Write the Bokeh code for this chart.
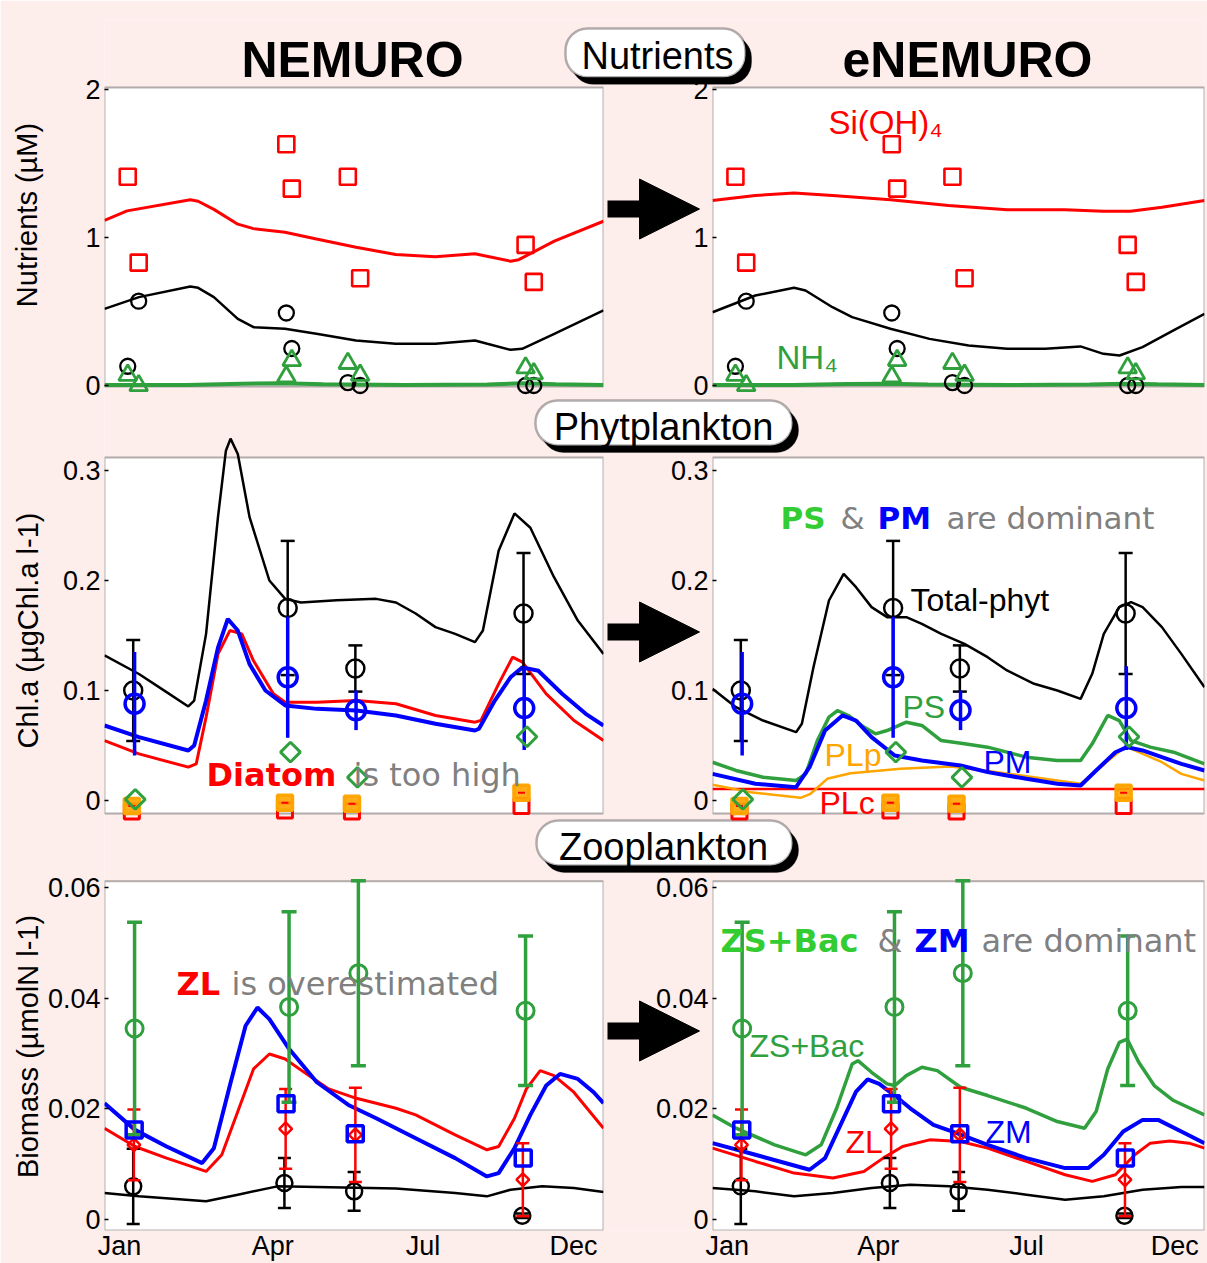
import math
from bokeh.plotting import figure
from bokeh.models import (Range1d, FixedTicker, BoxAnnotation, Label, Arrow,
                          NormalHead, GridBox)
from bokeh.embed import file_html
from bokeh.resources import INLINE

# ======================= DATA (x = day of year) =======================
month_tick_days = [11, 123, 233, 343]
month_tick_labels = ["Jan", "Apr", "Jul", "Dec"]
nut_ticks = [0, 1, 2]
nut_tick_labels = ["0", "1", "2"]
chl_ticks = [0, 0.1, 0.2, 0.3]
chl_tick_labels = ["0", "0.1", "0.2", "0.3"]
zoo_ticks = [0, 0.02, 0.04, 0.06]
zoo_tick_labels = ["0", "0.02", "0.04", "0.06"]

# ---- Nutrients: observations ----
nut_obs_day = [17, 25, 133, 137, 178, 187, 308, 314]
nut_obs_si = [1.41, 0.83, 1.63, 1.33, 1.41, 0.725, 0.95, 0.70]
nut_obs_no3 = [0.13, 0.57, 0.49, 0.25, 0.02, 0.0, 0.0, 0.0]
nut_obs_nh4 = [0.07, 0.0, 0.06, 0.17, 0.15, 0.07, 0.12, 0.08]
# ---- Nutrients: NEMURO ----
nem_si_day = [0, 16.5, 62.8, 68.5, 80, 97.5, 109, 132, 155, 184, 213, 242, 271, 277, 297, 303, 329, 365]
nem_si = [1.115, 1.18, 1.255, 1.245, 1.19, 1.09, 1.06, 1.036, 0.99, 0.934, 0.885, 0.87, 0.89, 0.878, 0.84, 0.85, 0.975, 1.11]
nem_no3_day = [0, 25.2, 62.8, 68.5, 80, 97.5, 109, 132, 155, 184, 213, 242, 271, 280, 297, 305.5, 329, 365]
nem_no3 = [0.518, 0.597, 0.669, 0.66, 0.597, 0.45, 0.394, 0.383, 0.349, 0.304, 0.282, 0.282, 0.304, 0.282, 0.241, 0.248, 0.349, 0.507]
nem_nh4_day = [0, 60, 100, 130, 160, 220, 280, 305, 330, 365]
nem_nh4 = [0.004, 0.003, 0.012, 0.015, 0.008, 0.004, 0.006, 0.015, 0.008, 0.004]
# ---- Nutrients: eNEMURO ----
enem_si_day = [0, 31.8, 60.5, 89, 132, 175, 218.5, 261.6, 290, 310, 333.5, 365]
enem_si = [1.25, 1.284, 1.30, 1.284, 1.255, 1.216, 1.187, 1.187, 1.178, 1.178, 1.205, 1.25]
enem_no3_day = [0, 31.8, 60.5, 69, 89, 103.6, 132, 161, 190, 218.5, 247, 273, 290, 302, 319, 342, 365]
enem_no3 = [0.495, 0.608, 0.66, 0.642, 0.529, 0.462, 0.383, 0.315, 0.27, 0.248, 0.248, 0.264, 0.214, 0.203, 0.259, 0.372, 0.484]
enem_nh4_day = [0, 60, 100, 130, 160, 220, 280, 305, 330, 365]
enem_nh4 = [0.004, 0.003, 0.010, 0.012, 0.007, 0.004, 0.006, 0.012, 0.008, 0.004]

# ---- Phytoplankton: observations ----
phy_obs_tot_day = [21, 134, 183.5, 306.5]
phy_obs_tot = [0.100, 0.175, 0.120, 0.170]
phy_obs_tot_err = [0.046, 0.061, 0.021, 0.055]
phy_obs_pm_day = [22, 134, 184, 307]
phy_obs_pm = [0.088, 0.112, 0.082, 0.084]
phy_obs_pm_err = [0.047, 0.055, 0.018, 0.038]
phy_obs_ps_day = [22.5, 136, 185, 309]
phy_obs_ps = [0.001, 0.044, 0.021, 0.058]
phy_obs_pl_day = [20, 132, 181, 305]
phy_obs_plp = [-0.005, -0.002, -0.003, 0.007]
phy_obs_plc = [-0.010, -0.009, -0.010, -0.005]
# ---- Phytoplankton: NEMURO ----
nem_tot_day = [0, 25.2, 45.4, 61.3, 65.6, 74.3, 83.0, 88.8, 92.2, 97.5, 106.1, 120.6, 132.2, 143.7, 169.8, 198.7, 213.2, 227.6, 242.1, 256.5, 271.0, 276.8, 288.3, 299.9, 311.5, 328.8, 346.2, 365]
nem_tot = [0.132, 0.115, 0.0985, 0.0855, 0.0909, 0.1515, 0.2576, 0.318, 0.329, 0.315, 0.2576, 0.2, 0.1833, 0.180, 0.182, 0.1833, 0.180, 0.170, 0.1576, 0.1515, 0.144, 0.1545, 0.227, 0.261, 0.248, 0.203, 0.1636, 0.1333]
nem_dia_day = [0, 25.2, 61.3, 67.1, 74.3, 83.0, 91.7, 100.4, 109.0, 123.5, 132.2, 155.3, 184.2, 213.2, 242.1, 271.0, 275.3, 288.3, 298.5, 305.7, 323.1, 343.4, 365]
nem_dia = [0.0545, 0.0424, 0.0303, 0.0333, 0.0758, 0.133, 0.1545, 0.1515, 0.127, 0.097, 0.0894, 0.0894, 0.0909, 0.0879, 0.0773, 0.0712, 0.0727, 0.106, 0.1303, 0.1258, 0.097, 0.0727, 0.0545]
nem_sp_day = [0, 25.2, 61.3, 65.6, 74.3, 83.0, 90.2, 97.5, 106.1, 117.7, 132.2, 155.3, 184.2, 213.2, 242.1, 271.0, 273.9, 285.5, 297.0, 305.7, 317.3, 334.7, 352.0, 365]
nem_sp = [0.0682, 0.0576, 0.0455, 0.05, 0.0909, 0.139, 0.165, 0.1545, 0.124, 0.1, 0.0864, 0.0833, 0.0818, 0.0773, 0.0697, 0.0636, 0.0652, 0.0909, 0.112, 0.121, 0.118, 0.097, 0.0788, 0.0682]
# ---- Phytoplankton: eNEMURO ----
enem_tot_day = [0, 17.4, 37.5, 62, 66.3, 74.9, 86.4, 97.3, 106.5, 118, 129.5, 143.8, 155.3, 169.7, 186.9, 204.1, 218.5, 238.6, 255.8, 273.1, 281.7, 290.3, 301.8, 310.5, 319.1, 333.4, 347.8, 365]
enem_tot = [0.1015, 0.0848, 0.0727, 0.0621, 0.0697, 0.1212, 0.1818, 0.2061, 0.1939, 0.1758, 0.1667, 0.1667, 0.1606, 0.1515, 0.1424, 0.1303, 0.1182, 0.1061, 0.1, 0.0924, 0.1152, 0.1515, 0.1758, 0.1803, 0.1758, 0.1576, 0.1333, 0.1030]
enem_ps_day = [0, 17.4, 37.5, 62, 69.2, 77.8, 86.4, 92.7, 100.8, 112.3, 120.9, 129.5, 143.8, 155.3, 169.7, 186.9, 204.1, 232.8, 255.8, 273.1, 281.7, 293.2, 301.8, 310.5, 324.8, 342.1, 365]
enem_ps = [0.0348, 0.0273, 0.0212, 0.0182, 0.0242, 0.0545, 0.0758, 0.0818, 0.0773, 0.0667, 0.0606, 0.0636, 0.0712, 0.0682, 0.0545, 0.0515, 0.0485, 0.0394, 0.0364, 0.0364, 0.0515, 0.0773, 0.0727, 0.0545, 0.0485, 0.0439, 0.0333]
enem_pm_day = [0, 31.8, 62, 72, 83.5, 96.4, 106.5, 118, 135.2, 155.3, 184, 204.1, 232.8, 255.8, 273.1, 284.6, 298.9, 307.5, 319.1, 333.4, 347.8, 365]
enem_pm = [0.0242, 0.0152, 0.0121, 0.0303, 0.0636, 0.0773, 0.0727, 0.0576, 0.0409, 0.0364, 0.0318, 0.0258, 0.0197, 0.0152, 0.0136, 0.0273, 0.0439, 0.0485, 0.0455, 0.0394, 0.0333, 0.0273]
enem_plp_day = [0, 28.2, 65.3, 72.7, 85.1, 102.4, 139.5, 176.6, 201.3, 238.4, 273.1, 287.9, 302.7, 307.6, 333.4, 347.8, 365]
enem_plp = [0.0143, 0.0076, 0.0024, 0.0061, 0.0197, 0.0248, 0.0288, 0.0309, 0.0273, 0.0212, 0.0152, 0.0303, 0.0455, 0.0485, 0.0348, 0.0242, 0.0182]
enem_plc_day = [0, 365]
enem_plc = [0.0105, 0.0105]

# ---- Zooplankton: observations ----
zoo_obs_zsb_day = [22, 135, 185.7, 308]
zoo_obs_zsb = [0.0345, 0.0384, 0.0445, 0.0377]
zoo_obs_zsb_err = [0.0192, 0.0172, 0.0167, 0.0135]
zoo_obs_zm_day = [21.7, 132.8, 183.4, 306.3]
zoo_obs_zm = [0.0162, 0.0209, 0.0155, 0.0111]
zoo_obs_zl_day = [21.5, 132.5, 183.5, 306]
zoo_obs_zl = [0.0135, 0.0164, 0.0153, 0.0072]
zoo_obs_zl_err = [0.0064, 0.0072, 0.0085, 0.0066]
zoo_obs_zs_day = [21, 131.6, 182.6, 305.6]
zoo_obs_zs = [0.0060, 0.0066, 0.0051, 0.0007]
zoo_obs_zs_err = [0.0068, 0.0045, 0.0035, 0.0004]
# ---- Zooplankton: NEMURO ----
nem_zm_day = [0, 22.3, 45.4, 71.4, 80, 91.7, 103.2, 111.9, 120.6, 135.1, 155.3, 178.4, 198.7, 227.6, 256.5, 279.7, 288.3, 299.9, 311.5, 323.1, 333.2, 346.2, 357.8, 365]
nem_zm = [0.021, 0.0162, 0.0132, 0.0102, 0.0129, 0.0242, 0.035, 0.0383, 0.0362, 0.0308, 0.0248, 0.0207, 0.0183, 0.0147, 0.0111, 0.0078, 0.0084, 0.0129, 0.0189, 0.0242, 0.0263, 0.0254, 0.023, 0.021]
nem_zl_day = [0, 22.3, 45.4, 74.3, 85.8, 97.5, 109, 120.6, 132.2, 149.5, 164, 184.2, 213.2, 227.6, 256.5, 279.7, 288.3, 299.9, 308.6, 318.7, 328.8, 343.3, 365]
nem_zl = [0.0165, 0.0132, 0.0111, 0.0087, 0.0117, 0.0195, 0.0272, 0.0299, 0.029, 0.026, 0.0236, 0.0219, 0.0201, 0.0189, 0.0153, 0.0126, 0.0132, 0.0183, 0.0236, 0.0269, 0.026, 0.023, 0.0165]
nem_zs_day = [0, 25.2, 74.3, 97.5, 126.4, 155.3, 213.2, 256.5, 279.7, 297, 320.2, 343.3, 365]
nem_zs = [0.0048, 0.0042, 0.0033, 0.0045, 0.0060, 0.0059, 0.0056, 0.0048, 0.0042, 0.0054, 0.0060, 0.0057, 0.0050]
# ---- Zooplankton: eNEMURO ----
enem_zsb_day = [0, 17.4, 46.1, 69.2, 80.6, 92.1, 103.6, 107.9, 118, 129.5, 135.2, 143.8, 155.3, 166.8, 184, 204.1, 232.9, 255.8, 276, 284.6, 293.2, 301.8, 307.6, 316.2, 327.7, 342, 365]
enem_zsb = [0.0189, 0.0165, 0.0135, 0.0117, 0.0135, 0.0201, 0.0281, 0.0287, 0.0266, 0.0245, 0.0242, 0.026, 0.0275, 0.0269, 0.0239, 0.0224, 0.0201, 0.0177, 0.0165, 0.0195, 0.0272, 0.032, 0.0326, 0.0284, 0.0242, 0.0215, 0.0189]
enem_zm_day = [0, 31.8, 72, 83.5, 95, 106.5, 115.1, 123.7, 135.2, 146.7, 163.9, 181.2, 204.1, 232.9, 261.6, 278.8, 290.3, 304.7, 319.1, 330.6, 347.8, 365]
enem_zm = [0.0138, 0.0117, 0.009, 0.0111, 0.0171, 0.0231, 0.0253, 0.0245, 0.0224, 0.0201, 0.0171, 0.0156, 0.0135, 0.0111, 0.0093, 0.0093, 0.0117, 0.0159, 0.018, 0.018, 0.0159, 0.0138]
enem_zl_day = [0, 31.8, 60.5, 89.3, 112.3, 126.6, 141, 161.1, 184, 204.1, 232.9, 261.6, 281.7, 298.9, 313.3, 324.8, 339.2, 353.6, 365]
enem_zl = [0.0129, 0.0105, 0.0084, 0.0075, 0.0087, 0.0111, 0.0132, 0.0144, 0.0141, 0.0129, 0.0105, 0.0081, 0.0069, 0.0081, 0.0117, 0.0138, 0.0142, 0.0138, 0.0129]
enem_zs_day = [0, 31.8, 60.5, 89.3, 118, 146.7, 175.4, 204.1, 232.9, 261.6, 290.3, 319.1, 347.8, 365]
enem_zs = [0.0057, 0.0051, 0.0042, 0.0048, 0.0057, 0.0063, 0.0060, 0.0054, 0.0045, 0.0036, 0.0042, 0.0054, 0.0059, 0.0059]

# ======================= STYLE / LAYOUT =======================
PINK = "#fdedeb"
RED = "#ff0000"
BLUE = "#0000ff"
GREEN = "#2fa03d"
BGREEN = "#33cc33"
ORANGE = "#ffa500"
GRAY = "#808080"
SANS = "Liberation Sans"
VERD = "DejaVu Sans"
W, H = 1207, 1263
BASE_SHIFT = 0.34   # label anchor correction (fraction of font size)

ROWS = {
    1: dict(fig_top=0, fig_h=410, frame_top=20, frame_bot=409, box_top=87, box_bot=386, zero=385.0, scale=148.0),
    2: dict(fig_top=410, fig_h=430, frame_top=425, frame_bot=835, box_top=457, box_bot=813, zero=800.0, scale=1100.0),
    3: dict(fig_top=840, fig_h=423, frame_top=862, frame_bot=1233, box_top=881, box_bot=1233, zero=1222.0, scale=5583.0),
}
COLS = {
    "L": dict(fig_left=0, fig_w=604, frame_left=104, frame_right=603),
    "R": dict(fig_left=604, fig_w=603, frame_left=712, frame_right=1204),
}


def yv(row, py):
    r = ROWS[row]
    return (r["zero"] - py) / r["scale"]


def xd(col, px):
    c = COLS[col]
    return (px - c["frame_left"]) * 365.0 / (c["frame_right"] - c["frame_left"])


def make_panel(col, row, ticks, tick_labels, ylabel=None, ylabel_standoff=0, xaxis=False):
    c, r = COLS[col], ROWS[row]
    p = figure(width=c["fig_w"], height=r["fig_h"], output_backend="svg", toolbar_location=None,
               x_range=Range1d(0, 365),
               y_range=Range1d(yv(row, r["frame_bot"]), yv(row, r["frame_top"])),
               x_axis_location="below" if xaxis else None,
               min_border_left=c["frame_left"] - c["fig_left"],
               min_border_right=c["fig_left"] + c["fig_w"] - c["frame_right"],
               min_border_top=r["frame_top"] - r["fig_top"],
               min_border_bottom=r["fig_top"] + r["fig_h"] - r["frame_bot"])
    p.background_fill_alpha = 0
    p.border_fill_alpha = 0
    p.outline_line_color = None
    p.grid.visible = False
    p.add_layout(BoxAnnotation(left=0, right=365, bottom=yv(row, r["box_bot"]), top=yv(row, r["box_top"]),
                               fill_color="white", fill_alpha=1.0, line_color="black", line_width=2,
                               level="underlay"))
    ya = p.yaxis[0]
    ya.ticker = FixedTicker(ticks=ticks)
    ya.major_label_overrides = {t: l for t, l in zip(ticks, tick_labels)}
    ya.axis_line_color = None
    ya.major_tick_in = 4
    ya.major_tick_out = 0
    ya.major_tick_line_color = "black"
    ya.major_tick_line_width = 1.5
    ya.minor_tick_line_color = None
    ya.major_label_text_font = SANS
    ya.major_label_text_font_size = "27px"
    ya.major_label_text_color = "black"
    ya.major_label_standoff = 4
    if ylabel:
        ya.axis_label = ylabel
        ya.axis_label_text_font = SANS
        ya.axis_label_text_font_size = "29px"
        ya.axis_label_text_font_style = "normal"
        ya.axis_label_text_color = "black"
        ya.axis_label_standoff = ylabel_standoff
    if xaxis:
        xa = p.xaxis[0]
        xa.ticker = FixedTicker(ticks=month_tick_days)
        xa.major_label_overrides = {t: l for t, l in zip(month_tick_days, month_tick_labels)}
        xa.axis_line_color = None
        xa.major_tick_in = 0
        xa.major_tick_out = 0
        xa.minor_tick_line_color = None
        xa.major_label_text_font = SANS
        xa.major_label_text_font_size = "27px"
        xa.major_label_text_color = "black"
        xa.major_label_standoff = 0
    return p


def lab(p, col, row, px, py, text, color, font=SANS, size=32, style="normal"):
    p.add_layout(Label(x=xd(col, px), y=yv(row, py - BASE_SHIFT * size), text=text, text_color=color,
                       text_font=font, text_font_size=f"{size}px", text_font_style=style, text_align="left",
                       text_baseline="alphabetic"))


def errbars(p, x, y, err, color, lw, cap):
    lo = [a - e for a, e in zip(y, err)]
    hi = [a + e for a, e in zip(y, err)]
    p.segment(x0=x, y0=lo, x1=x, y1=hi, line_color=color, line_width=lw)
    if cap:
        p.scatter(x=list(x) + list(x), y=lo + hi, marker="dash", size=cap, line_color=color, line_width=lw)


# ---------------- Row 1: nutrients ----------------
def nutrients(col, si_d, si, no3_d, no3, nh4_d, nh4):
    p = make_panel(col, 1, nut_ticks, nut_tick_labels,
                   ylabel="Nutrients (\u00b5M)" if col == "L" else None, ylabel_standoff=39)
    p.line(si_d, si, line_color=RED, line_width=3)
    p.line(no3_d, no3, line_color="black", line_width=2.5)
    p.line(nh4_d, nh4, line_color=GREEN, line_width=4)
    p.scatter(nut_obs_day, nut_obs_si, marker="square", size=16, fill_color=None, line_color=RED, line_width=2.6)
    p.scatter(nut_obs_day, nut_obs_no3, marker="circle", size=15, fill_color=None, line_color="black", line_width=2.3)
    p.scatter(nut_obs_day, nut_obs_nh4, marker="triangle", size=18, fill_color=None, line_color=GREEN, line_width=2.8)
    return p


L1 = nutrients("L", nem_si_day, nem_si, nem_no3_day, nem_no3, nem_nh4_day, nem_nh4)
R1 = nutrients("R", enem_si_day, enem_si, enem_no3_day, enem_no3, enem_nh4_day, enem_nh4)
lab(R1, "R", 1, 828, 133, "Si(OH)\u2084", RED, size=33)
lab(R1, "R", 1, 776, 368, "NH\u2084", GREEN, size=33)


# ---------------- Row 2: phytoplankton ----------------
def phyto_obs(p):
    p.scatter(phy_obs_pl_day, phy_obs_plc, marker="square", size=15, fill_color=None, line_color=RED, line_width=3)
    p.scatter(phy_obs_pl_day, phy_obs_plp, marker="square", size=15, fill_color=ORANGE, fill_alpha=0.9,
              line_color=ORANGE, line_width=3.5)
    p.scatter(phy_obs_pl_day, phy_obs_plp, marker="dash", size=7, line_color=RED, line_width=2)
    errbars(p, phy_obs_tot_day, phy_obs_tot, phy_obs_tot_err, "black", 2.5, 14)
    p.scatter(phy_obs_tot_day, phy_obs_tot, marker="circle", size=18, fill_color=None, line_color="black", line_width=2.5)
    errbars(p, phy_obs_pm_day, phy_obs_pm, phy_obs_pm_err, BLUE, 3.5, None)
    p.scatter(phy_obs_pm_day, phy_obs_pm, marker="circle", size=19, fill_color=None, line_color=BLUE, line_width=3.5)
    p.scatter(phy_obs_ps_day, phy_obs_ps, marker="square", angle=math.pi / 4, size=14, fill_color=None,
              line_color=GREEN, line_width=3)


L2 = make_panel("L", 2, chl_ticks, chl_tick_labels, ylabel="Chl.a (\u00b5gChl.a l-1)", ylabel_standoff=16)
L2.line(nem_tot_day, nem_tot, line_color="black", line_width=2.5)
L2.line(nem_dia_day, nem_dia, line_color=RED, line_width=3)
L2.line(nem_sp_day, nem_sp, line_color=BLUE, line_width=4)
phyto_obs(L2)
lab(L2, "L", 2, 206, 785, "Diatom", RED, font=VERD, size=32, style="bold")
lab(L2, "L", 2, 353, 785, "is too high", GRAY, font=VERD, size=32)

R2 = make_panel("R", 2, chl_ticks, chl_tick_labels)
R2.line(enem_tot_day, enem_tot, line_color="black", line_width=2.5)
R2.line(enem_plc_day, enem_plc, line_color=RED, line_width=2.5)
R2.line(enem_plp_day, enem_plp, line_color=ORANGE, line_width=2.5)
R2.line(enem_ps_day, enem_ps, line_color=GREEN, line_width=3.5)
R2.line(enem_pm_day, enem_pm, line_color=BLUE, line_width=4)
phyto_obs(R2)
lab(R2, "R", 2, 780, 528, "PS", BGREEN, font=VERD, size=31, style="bold")
lab(R2, "R", 2, 840, 528, "&", GRAY, font=VERD, size=31)
lab(R2, "R", 2, 877, 528, "PM", BLUE, font=VERD, size=31, style="bold")
lab(R2, "R", 2, 946, 528, "are dominant", GRAY, font=VERD, size=31)
lab(R2, "R", 2, 910, 610, "Total-phyt", "black", size=32)
lab(R2, "R", 2, 902, 717, "PS", GREEN, size=32)
lab(R2, "R", 2, 824, 765, "PLp", ORANGE, size=32)
lab(R2, "R", 2, 983, 772, "PM", BLUE, size=32)
lab(R2, "R", 2, 819, 813, "PLc", RED, size=32)


# ---------------- Row 3: zooplankton ----------------
def zoo_obs(p):
    errbars(p, zoo_obs_zs_day, zoo_obs_zs, zoo_obs_zs_err, "black", 2.5, 13)
    p.scatter(zoo_obs_zs_day, zoo_obs_zs, marker="circle", size=16, fill_color=None, line_color="black", line_width=2.5)
    errbars(p, zoo_obs_zl_day, zoo_obs_zl, zoo_obs_zl_err, RED, 2.5, 13)
    p.scatter(zoo_obs_zl_day, zoo_obs_zl, marker="square", angle=math.pi / 4, size=9, fill_color=None,
              line_color=RED, line_width=2.5)
    errbars(p, zoo_obs_zsb_day, zoo_obs_zsb, zoo_obs_zsb_err, GREEN, 3.5, 15)
    p.scatter(zoo_obs_zsb_day, zoo_obs_zsb, marker="circle", size=17, fill_color=None, line_color=GREEN, line_width=3)
    p.scatter(zoo_obs_zm_day, zoo_obs_zm, marker="square", size=16, fill_color=None, line_color=BLUE, line_width=3.5)


L3 = make_panel("L", 3, zoo_ticks, zoo_tick_labels, ylabel="Biomass (\u00b5molN l-1)", ylabel_standoff=1, xaxis=True)
L3.line(nem_zs_day, nem_zs, line_color="black", line_width=2.5)
L3.line(nem_zl_day, nem_zl, line_color=RED, line_width=3)
L3.line(nem_zm_day, nem_zm, line_color=BLUE, line_width=4)
zoo_obs(L3)
lab(L3, "L", 3, 176, 995, "ZL", RED, font=VERD, size=32, style="bold")
lab(L3, "L", 3, 231, 995, "is overestimated", GRAY, font=VERD, size=32)

R3 = make_panel("R", 3, zoo_ticks, zoo_tick_labels, xaxis=True)
R3.line(enem_zs_day, enem_zs, line_color="black", line_width=2.5)
R3.line(enem_zl_day, enem_zl, line_color=RED, line_width=3)
R3.line(enem_zm_day, enem_zm, line_color=BLUE, line_width=4)
R3.line(enem_zsb_day, enem_zsb, line_color=GREEN, line_width=3.5)
zoo_obs(R3)
lab(R3, "R", 3, 720, 952, "ZS+Bac", BGREEN, font=VERD, size=32, style="bold")
lab(R3, "R", 3, 877, 952, "&", GRAY, font=VERD, size=32)
lab(R3, "R", 3, 914, 952, "ZM", BLUE, font=VERD, size=32, style="bold")
lab(R3, "R", 3, 981, 952, "are dominant", GRAY, font=VERD, size=32)
lab(R3, "R", 3, 749, 1058, "ZS+Bac", GREEN, size=32)
lab(R3, "R", 3, 845, 1155, "ZL", RED, size=32)
lab(R3, "R", 3, 985, 1145, "ZM", BLUE, size=32)

# ---------------- Overlay (background, titles, headers, arrows) ----------------
# the grid aligns this plot's frame with the panels' borders, so give it the same borders
OV_L, OV_R, OV_T, OV_B = 104, 1204, 20, 1233
ov = figure(width=W, height=H, output_backend="svg", toolbar_location=None,
            x_range=Range1d(OV_L, OV_R), y_range=Range1d(H - OV_B, H - OV_T),
            x_axis_location=None, y_axis_location=None,
            min_border_left=OV_L, min_border_right=W - OV_R, min_border_top=OV_T, min_border_bottom=H - OV_B)
ov.grid.visible = False
ov.outline_line_color = None
ov.background_fill_color = PINK
ov.border_fill_color = PINK


def Y(py):
    return H - py


for text, cx in [("NEMURO", 352), ("eNEMURO", 967)]:
    ov.add_layout(Label(x=cx, y=Y(77 - BASE_SHIFT * 50), text=text, text_font=SANS, text_font_style="bold",
                        text_font_size="50px", text_color="black", text_align="center",
                        text_baseline="alphabetic"))

headers = [("Nutrients", 565, 745, 28, 77, 657, 69),
           ("Phytplankton", 535, 792, 401, 446, 663, 440),
           ("Zooplankton", 536, 792, 822, 867, 663, 861)]
for text, l, r, t, b, cx, base in headers:
    ov.add_layout(BoxAnnotation(left=l + 6, right=r + 6, top=Y(t + 7), bottom=Y(b + 7), fill_color="black",
                                fill_alpha=1.0, line_color="black", border_radius=22))
    ov.add_layout(BoxAnnotation(left=l, right=r, top=Y(t), bottom=Y(b), fill_color="white", fill_alpha=1.0,
                                line_color="black", line_width=2.5, border_radius=22))
    ov.add_layout(Label(x=cx, y=Y(base - BASE_SHIFT * 38), text=text, text_font=SANS, text_font_size="38px",
                        text_color="black", text_align="center", text_baseline="alphabetic"))

for ay in [209, 633, 1033]:
    ov.add_layout(Arrow(x_start=607, y_start=Y(ay), x_end=699, y_end=Y(ay), line_width=17, line_color="black",
                        end=NormalHead(size=60, fill_color="black", line_color="black", line_width=1)))

grid = GridBox(children=[(ov, 0, 0, 3, 2),
                         (L1, 0, 0), (R1, 0, 1),
                         (L2, 1, 0), (R2, 1, 1),
                         (L3, 2, 0), (R3, 2, 1)],
               rows=["410px", "430px", "423px"], cols=["604px", "603px"])

open("out.html", "w").write(file_html(grid, INLINE))
